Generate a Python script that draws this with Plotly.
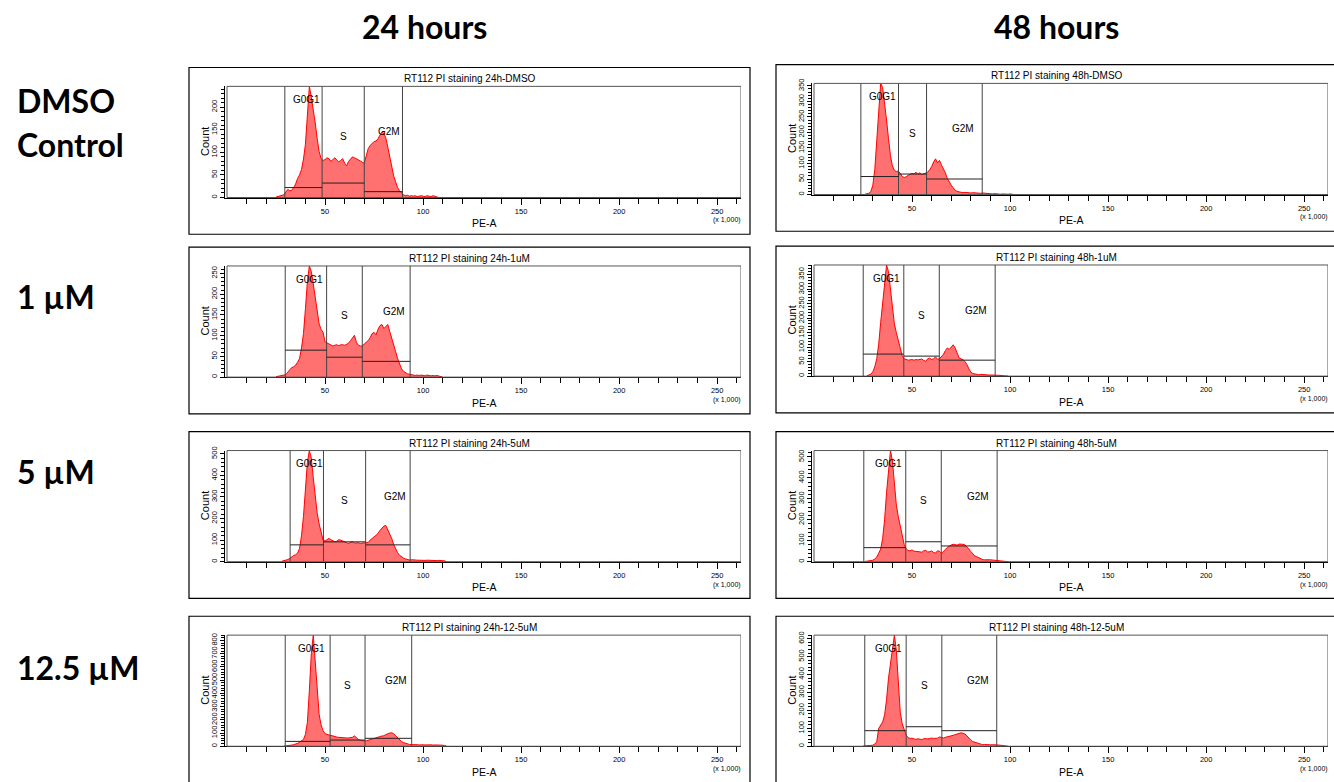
import plotly.graph_objects as go

# ---------------------------------------------------------------------------
# PI-stained RT112 cell-cycle histograms (PE-A, x 1,000), one bin per 1,000
# ---------------------------------------------------------------------------
col_headers = ["24 hours", "48 hours"]
row_labels = [["DMSO", "Control"], ["1 µM"], ["5 µM"], ["12.5 µM"]]

titles = [
    "RT112 PI staining 24h-DMSO", "RT112 PI staining 48h-DMSO",
    "RT112 PI staining 24h-1uM", "RT112 PI staining 48h-1uM",
    "RT112 PI staining 24h-5uM", "RT112 PI staining 48h-5uM",
    "RT112 PI staining 24h-12-5uM", "RT112 PI staining 48h-12-5uM",
]
gate_names = ["G0G1", "S", "G2M"]

# first bin (PE-A x 1,000) and counts per bin
start_24h_dmso = 25
counts_24h_dmso = [1, 2, 3, 4, 6, 12, 18, 15, 16, 22, 30, 42, 50, 62, 85, 118, 180, 246,
                   222, 195, 165, 130, 102, 86, 82, 84, 88, 86, 80, 84, 88, 83, 79, 82,
                   86, 76, 70, 80, 86, 90, 88, 86, 84, 81, 78, 76, 92, 108, 115, 120,
                   124, 125, 130, 138, 145, 142, 132, 112, 88, 66, 48, 35, 22, 15, 10,
                   6, 4, 5, 3, 4, 3, 4, 2, 3, 4, 3, 2, 4, 3, 2, 4, 3, 2, 0]
start_48h_dmso = 26
counts_48h_dmso = [1, 2, 4, 10, 30, 80, 170, 280, 358, 345, 300, 240, 180, 125, 92, 78,
                   74, 76, 68, 58, 55, 57, 62, 66, 68, 66, 72, 65, 70, 64, 66, 68, 72,
                   80, 90, 105, 115, 102, 110, 95, 84, 70, 52, 40, 30, 22, 14, 10, 8,
                   7, 6, 7, 6, 6, 5, 6, 5, 6, 5, 4, 5, 4, 3, 4, 3, 2, 3, 2, 2, 1, 2,
                   1, 2, 1, 2, 1, 0]
start_24h_1um = 25
counts_24h_1um = [1, 2, 2, 3, 4, 6, 12, 19, 23, 25, 29, 36, 45, 70, 105, 165, 230, 268,
                  255, 225, 190, 155, 128, 115, 108, 85, 82, 80, 78, 75, 77, 78, 76, 78,
                  78, 77, 79, 82, 88, 95, 101, 84, 77, 75, 75, 80, 84, 88, 95, 105, 108,
                  102, 115, 124, 127, 117, 122, 127, 110, 92, 75, 62, 45, 30, 20, 14,
                  10, 8, 7, 6, 5, 4, 5, 4, 5, 4, 3, 5, 4, 3, 4, 3, 4, 3, 2, 0]
start_48h_1um = 27
counts_48h_1um = [1, 3, 7, 15, 32, 60, 110, 185, 250, 325, 383, 360, 300, 235, 180, 150,
                  125, 95, 70, 60, 57, 55, 56, 57, 55, 57, 56, 58, 59, 54, 51, 60, 62,
                  57, 60, 66, 58, 60, 68, 75, 88, 97, 92, 100, 108, 97, 78, 63, 59, 57,
                  50, 40, 25, 14, 9, 7, 6, 5, 6, 5, 4, 5, 4, 4, 3, 4, 3, 3, 2, 3, 2, 1, 0]
start_24h_5um = 28
counts_24h_5um = [2, 4, 6, 10, 15, 24, 29, 32, 40, 62, 120, 210, 340, 460, 515, 480, 390,
                  300, 225, 175, 135, 100, 96, 104, 108, 102, 96, 92, 95, 102, 100, 95,
                  92, 88, 85, 90, 93, 86, 87, 88, 85, 86, 90, 91, 89, 100, 110, 115, 122,
                  131, 145, 158, 165, 168, 150, 131, 108, 80, 60, 42, 30, 22, 17, 13, 10,
                  8, 9, 7, 8, 7, 6, 8, 7, 6, 7, 6, 5, 7, 6, 5, 6, 5, 6, 4, 0]
start_48h_5um = 26
counts_48h_5um = [1, 2, 3, 5, 7, 13, 22, 40, 60, 110, 200, 330, 430, 530, 480, 360, 270,
                  215, 175, 120, 82, 62, 53, 52, 56, 50, 49, 51, 47, 45, 52, 54, 46, 48,
                  51, 44, 41, 52, 50, 40, 47, 58, 68, 75, 80, 83, 81, 79, 84, 85, 83, 80,
                  71, 60, 48, 35, 28, 24, 18, 14, 10, 9, 10, 8, 9, 8, 7, 8, 6, 7, 5, 4,
                  2, 0]
start_24h_12um = 29
counts_24h_12um = [1, 2, 4, 6, 9, 12, 16, 22, 30, 38, 52, 90, 180, 420, 700, 840, 650, 420,
                   240, 160, 118, 95, 88, 85, 82, 76, 72, 70, 67, 65, 64, 65, 63, 63, 64,
                   68, 78, 62, 52, 46, 42, 40, 41, 45, 48, 52, 56, 62, 68, 74, 76, 80, 88,
                   95, 100, 102, 95, 80, 65, 48, 36, 28, 22, 18, 14, 12, 13, 11, 12, 10,
                   12, 11, 10, 12, 10, 11, 9, 11, 10, 9, 10, 8, 6, 0]
start_48h_12um = 25
counts_48h_12um = [1, 2, 3, 4, 5, 6, 12, 25, 100, 122, 135, 175, 260, 380, 470, 560, 620,
                   535, 330, 190, 126, 92, 62, 48, 44, 45, 40, 38, 42, 40, 37, 42, 44, 42,
                   43, 46, 44, 43, 45, 52, 48, 46, 50, 52, 55, 58, 61, 65, 68, 72, 75, 72,
                   68, 58, 45, 34, 26, 22, 17, 14, 10, 9, 10, 8, 9, 8, 9, 7, 8, 7, 6, 5,
                   4, 2, 0]

# interval gate limits (PE-A x 1,000): G0G1 | S | G2M
gates_24h_dmso = [29.5, 48.5, 70.0, 89.5]
gates_48h_dmso = [23.9, 43.1, 57.4, 85.8]
gates_24h_1um = [29.7, 50.8, 69.0, 93.4]
gates_48h_1um = [25.1, 45.8, 63.9, 92.4]
gates_24h_5um = [32.2, 49.2, 70.7, 93.4]
gates_48h_5um = [25.4, 46.8, 64.9, 93.4]
gates_24h_12um = [29.7, 52.6, 70.4, 94.2]
gates_48h_12um = [25.9, 47.0, 65.2, 93.2]

# count level at which each gate bar is drawn
bars_24h_dmso = [22, 32, 13]
bars_48h_dmso = [58, 66, 50]
bars_24h_1um = [65, 48, 38]
bars_48h_1um = [76, 69, 55]
bars_24h_5um = [78, 92, 78]
bars_48h_5um = [67, 95, 75]
bars_24h_12um = [37, 47, 60]
bars_48h_12um = [87, 109, 87]

# y-axis label step per histogram
ysteps = [50, 50, 50, 50, 100, 100, 100, 100]

x_ticks = [50, 100, 150, 200, 250]
x_minor = [v for v in range(10, 261, 10) if v % 50]

starts = [start_24h_dmso, start_48h_dmso, start_24h_1um, start_48h_1um,
          start_24h_5um, start_48h_5um, start_24h_12um, start_48h_12um]
counts = [counts_24h_dmso, counts_48h_dmso, counts_24h_1um, counts_48h_1um,
          counts_24h_5um, counts_48h_5um, counts_24h_12um, counts_48h_12um]
gates = [gates_24h_dmso, gates_48h_dmso, gates_24h_1um, gates_48h_1um,
         gates_24h_5um, gates_48h_5um, gates_24h_12um, gates_48h_12um]
bars = [bars_24h_dmso, bars_48h_dmso, bars_24h_1um, bars_48h_1um,
        bars_24h_5um, bars_48h_5um, bars_24h_12um, bars_48h_12um]

# ---------------------------------------------------------------------------
W, H = 1334, 782
XMAX = 262.144
BOX_W, BOX_H = 561, 168
box_left = [189, 776]
box_top = [[63, 60], [244, 243], [430, 430], [616, 616]]

SMALL = "Liberation Sans, Arial, sans-serif"
BIG = "Lato, Open Sans, sans-serif"
FILL = "rgb(255,112,112)"
LINE = "rgb(255,0,0)"


def px(v):
    return v / W


def py(v):
    return 1 - v / H


fig = go.Figure()
layout = {}
shapes = []
annotations = []

for i in range(8):
    row, col = divmod(i, 2)
    bl = box_left[col]
    bt = box_top[row][col]
    n = i + 1
    xa = "x" if n == 1 else f"x{n}"
    ya = "y" if n == 1 else f"y{n}"
    xkey = "xaxis" if n == 1 else f"xaxis{n}"
    ykey = "yaxis" if n == 1 else f"yaxis{n}"

    cts = counts[i]
    xs = [starts[i] + k for k in range(len(cts))]
    ymax = max(cts)
    fig.add_trace(go.Scatter(
        x=xs, y=cts, xaxis=xa, yaxis=ya, mode="lines",
        line=dict(color=LINE, width=1), fill="tozeroy", fillcolor=FILL,
        hoverinfo="skip", showlegend=False,
    ))

    plot_top = bt + 19
    plot_bot = bt + 131
    axis_left = bl + 35.5
    axis_right = bl + 552
    ppu = (axis_right - (bl + 38)) / XMAX
    x0 = -(2.5 / ppu)

    layout[xkey] = dict(
        domain=[px(axis_left), px(axis_right)], range=[x0, XMAX], anchor=ya,
        tickmode="array", tickvals=x_ticks, ticks="outside", ticklen=6,
        tickcolor="black", tickwidth=1, showline=True, linecolor="black",
        linewidth=1, showgrid=False, zeroline=False,
        tickfont=dict(size=7.5, family=SMALL, color="black"),
        minor=dict(tickmode="array", tickvals=x_minor, ticks="outside",
                   ticklen=5, tickcolor="black", tickwidth=1, showgrid=False),
        fixedrange=True,
    )
    step = ysteps[i]
    layout[ykey] = dict(
        domain=[py(plot_bot), py(plot_top)], range=[0, ymax], anchor=xa,
        tickmode="linear", tick0=0, dtick=step, ticks="outside", ticklen=4,
        tickcolor="black", tickwidth=1, showline=True, linecolor="black",
        linewidth=1, showgrid=False, zeroline=False, tickangle=-90,
        tickfont=dict(size=7.5, family=SMALL, color="black"),
        minor=dict(tick0=0, dtick=step / 5, ticks="outside", ticklen=2.5,
                   tickcolor="black", tickwidth=1, showgrid=False),
        fixedrange=True,
    )

    # outer panel frame
    shapes.append(dict(type="rect", xref="paper", yref="paper",
                       x0=px(bl), x1=px(bl + BOX_W), y0=py(bt + BOX_H), y1=py(bt),
                       line=dict(color="black", width=1.2), layer="below"))
    # plot frame
    shapes.append(dict(type="rect", xref=xa, yref=f"{ya} domain",
                       x0=0, x1=XMAX, y0=0, y1=1,
                       line=dict(color="#555555", width=1)))
    # gate edges and bars
    g = gates[i]
    for b in g:
        shapes.append(dict(type="line", xref=xa, yref=f"{ya} domain",
                           x0=b, x1=b, y0=0, y1=1,
                           line=dict(color="#444444", width=1)))
    for j in range(3):
        shapes.append(dict(type="line", xref=xa, yref=ya,
                           x0=g[j], x1=g[j + 1], y0=bars[i][j], y1=bars[i][j],
                           line=dict(color="#222222", width=1)))
    # gate names
    label_pos = [(g[0] + 0.58 * (g[1] - g[0]), 0.88),
                 ((g[1] + g[2]) / 2, 0.55),
                 (g[2] + 0.66 * (g[3] - g[2]), 0.59)]
    for name, (lx, ly) in zip(gate_names, label_pos):
        annotations.append(dict(text=name, xref=xa, yref=f"{ya} domain",
                                x=lx, y=ly, showarrow=False,
                                font=dict(size=10, family=SMALL, color="black"),
                                xanchor="center", yanchor="middle"))

    # titles and axis names
    annotations.append(dict(text=titles[i], xref="paper", yref="paper",
                            x=px(bl + BOX_W / 2), y=py(bt + 11.5), showarrow=False,
                            font=dict(size=10, family=SMALL, color="black"),
                            xanchor="center", yanchor="middle"))
    annotations.append(dict(text="Count", xref="paper", yref="paper",
                            x=px(bl + 16), y=py((plot_top + plot_bot) / 2),
                            showarrow=False, textangle=-90,
                            font=dict(size=11, family=SMALL, color="black"),
                            xanchor="center", yanchor="middle"))
    annotations.append(dict(text="PE-A", xref="paper", yref="paper",
                            x=px(bl + 295), y=py(bt + 157), showarrow=False,
                            font=dict(size=10.5, family=SMALL, color="black"),
                            xanchor="center", yanchor="middle"))
    annotations.append(dict(text="(x 1,000)", xref="paper", yref="paper",
                            x=px(bl + 538), y=py(bt + 154), showarrow=False,
                            font=dict(size=7, family=SMALL, color="black"),
                            xanchor="center", yanchor="middle"))

# column and row headers
for text, cx in zip(col_headers, [424, 1056]):
    annotations.append(dict(text=f"<b>{text}</b>", xref="paper", yref="paper",
                            x=px(cx), y=py(22), showarrow=False,
                            font=dict(size=32, family=BIG, color="black"),
                            xanchor="center", yanchor="middle"))
row_y = [[96, 141], [294], [470], [668]]
for lines, ys in zip(row_labels, row_y):
    for text, yy in zip(lines, ys):
        annotations.append(dict(text=f"<b>{text}</b>", xref="paper", yref="paper",
                                x=px(15), y=py(yy), showarrow=False,
                                font=dict(size=32, family=BIG, color="black"),
                                xanchor="left", yanchor="middle"))

fig.update_layout(
    width=W, height=H, autosize=False,
    margin=dict(l=0, r=0, t=0, b=0),
    paper_bgcolor="white", plot_bgcolor="white",
    shapes=shapes, annotations=annotations, showlegend=False,
    **layout,
)

fig.write_html("out.html")
